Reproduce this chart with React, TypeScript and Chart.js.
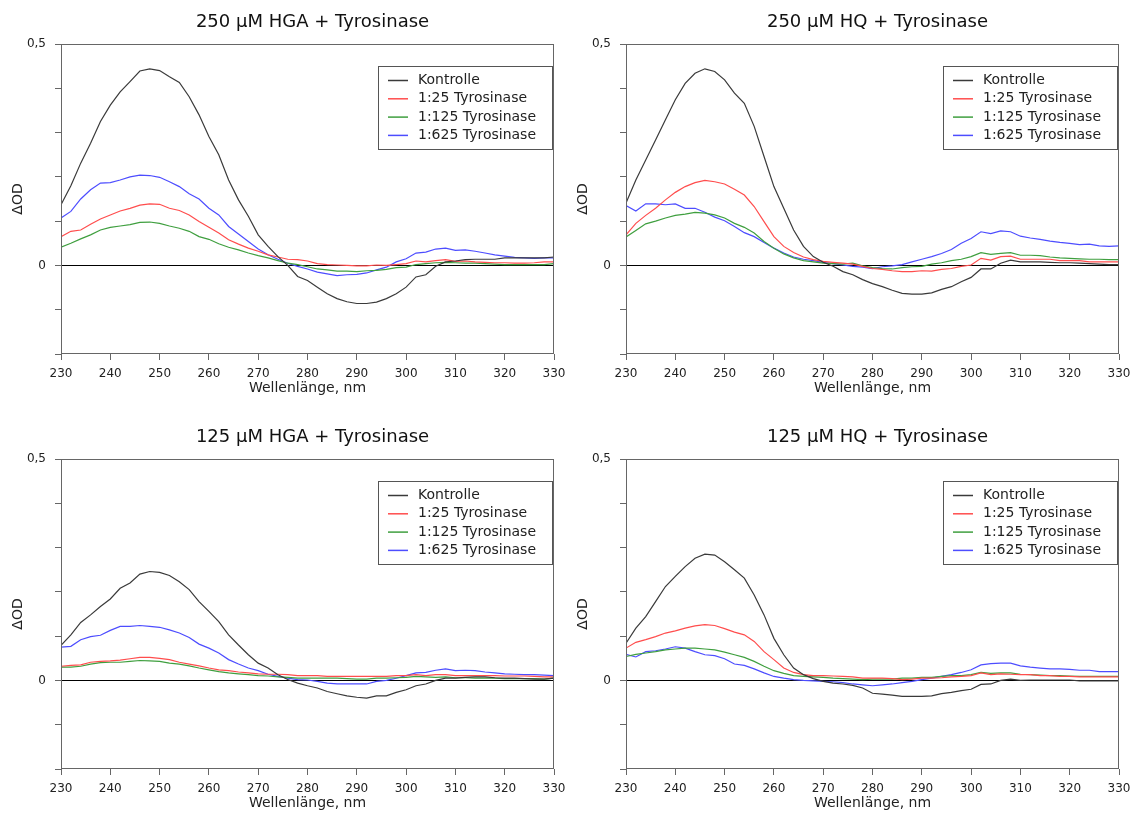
import React, { useEffect, useRef } from 'react';
import { Chart, registerables } from 'chart.js';

Chart.register(...registerables);
Chart.defaults.font.family = '"DejaVu Sans", Verdana, sans-serif';

// Wavelengths, nm (2 nm steps)
const WAVELENGTHS = [
  230, 232, 234, 236, 238, 240, 242, 244, 246, 248, 250, 252, 254, 256, 258, 260, 262, 264, 266, 268, 270, 272, 274, 276, 278, 280,
  282, 284, 286, 288, 290, 292, 294, 296, 298, 300, 302, 304, 306, 308, 310, 312, 314, 316, 318, 320, 322, 324, 326, 328, 330,
];

const SERIES_LABELS = ['Kontrolle', '1:25 Tyrosinase', '1:125 Tyrosinase', '1:625 Tyrosinase'];
const SERIES_COLORS = ['#3a3a3a', '#ff4d4d', '#3f9f3f', '#4d4dff'];

const PANEL_TITLES = [
  '250 µM HGA + Tyrosinase',
  '250 µM HQ + Tyrosinase',
  '125 µM HGA + Tyrosinase',
  '125 µM HQ + Tyrosinase',
];

const Y_TICK_LABELS: Record<string, string> = { '0': '0', '0.5': '0,5' };

// 250 µM HGA
const HGA250_KONTROLLE = [
  0.137, 0.18, 0.231, 0.276, 0.325, 0.362, 0.392, 0.415, 0.439, 0.444, 0.44, 0.426, 0.413, 0.381, 0.34, 0.291, 0.25, 0.193, 0.148, 0.111, 0.069, 0.043, 0.02, 0, -0.025, -0.034,
  -0.049, -0.064, -0.075, -0.082, -0.086, -0.086, -0.083, -0.075, -0.064, -0.049, -0.026, -0.021, -0.002, 0.008, 0.01, 0.013, 0.014, 0.014, 0.014, 0.017, 0.017, 0.017, 0.017, 0.017, 0.019,
];
const HGA250_T25 = [
  0.065, 0.077, 0.08, 0.093, 0.105, 0.114, 0.123, 0.129, 0.136, 0.139, 0.138, 0.129, 0.124, 0.114, 0.099, 0.086, 0.073, 0.058, 0.048, 0.039, 0.032, 0.024, 0.019, 0.014, 0.013, 0.01,
  0.004, 0.002, 0.001, 0, -0.001, -0.001, 0.001, 0, 0.002, 0.004, 0.01, 0.008, 0.011, 0.013, 0.009, 0.01, 0.008, 0.007, 0.006, 0.006, 0.005, 0.005, 0.006, 0.008, 0.008,
];
const HGA250_T125 = [
  0.041, 0.05, 0.06, 0.069, 0.08, 0.086, 0.089, 0.092, 0.097, 0.098, 0.095, 0.089, 0.084, 0.077, 0.065, 0.059, 0.049, 0.041, 0.035, 0.028, 0.022, 0.017, 0.011, 0.005, 0.002, -0.003,
  -0.008, -0.01, -0.013, -0.013, -0.014, -0.012, -0.011, -0.009, -0.005, -0.004, 0.002, 0.004, 0.006, 0.007, 0.006, 0.005, 0.005, 0.004, 0.003, 0.002, 0.002, 0.002, 0.002, 0.002, 0.004,
];
const HGA250_T625 = [
  0.107, 0.122, 0.15, 0.171, 0.186, 0.187, 0.193, 0.2, 0.204, 0.203, 0.199, 0.189, 0.178, 0.162, 0.15, 0.129, 0.114, 0.088, 0.071, 0.054, 0.037, 0.024, 0.014, 0.005, -0.002, -0.008,
  -0.015, -0.019, -0.023, -0.021, -0.02, -0.017, -0.01, -0.004, 0.008, 0.015, 0.028, 0.03, 0.037, 0.039, 0.034, 0.035, 0.032, 0.028, 0.024, 0.021, 0.018, 0.017, 0.016, 0.017, 0.017,
];

// 250 µM HQ
const HQ250_KONTROLLE = [
  0.141, 0.193, 0.238, 0.283, 0.329, 0.374, 0.411, 0.434, 0.444, 0.438, 0.419, 0.389, 0.366, 0.314, 0.246, 0.178, 0.129, 0.08, 0.043, 0.02, 0.007, -0.002, -0.014, -0.021, -0.032, -0.041,
  -0.048, -0.056, -0.063, -0.065, -0.065, -0.062, -0.054, -0.048, -0.037, -0.027, -0.008, -0.008, 0.005, 0.012, 0.008, 0.008, 0.008, 0.007, 0.006, 0.006, 0.005, 0.004, 0.003, 0.002, 0.002,
];
const HQ250_T25 = [
  0.069, 0.095, 0.113, 0.129, 0.148, 0.165, 0.178, 0.187, 0.192, 0.189, 0.184, 0.172, 0.159, 0.133, 0.099, 0.065, 0.043, 0.029, 0.019, 0.013, 0.009, 0.007, 0.005, 0.003, -0.002, -0.007,
  -0.009, -0.012, -0.014, -0.014, -0.012, -0.013, -0.009, -0.007, -0.002, 0.001, 0.016, 0.012, 0.02, 0.021, 0.014, 0.014, 0.014, 0.014, 0.011, 0.011, 0.011, 0.008, 0.008, 0.008, 0.008,
];
const HQ250_T125 = [
  0.064, 0.079, 0.094, 0.1, 0.107, 0.113, 0.116, 0.12, 0.118, 0.114, 0.107, 0.095, 0.086, 0.073, 0.054, 0.039, 0.026, 0.017, 0.011, 0.008, 0.005, 0.004, 0.003, 0.005, -0.001, -0.005,
  -0.007, -0.008, -0.005, -0.003, -0.002, 0.003, 0.006, 0.011, 0.014, 0.02, 0.029, 0.025, 0.027, 0.029, 0.023, 0.023, 0.022, 0.019, 0.017, 0.016, 0.015, 0.014, 0.014, 0.013, 0.013,
];
const HQ250_T625 = [
  0.135, 0.123, 0.139, 0.139, 0.137, 0.139, 0.129, 0.129, 0.12, 0.109, 0.101, 0.088, 0.074, 0.065, 0.052, 0.039, 0.028, 0.019, 0.014, 0.011, 0.007, 0.004, 0.001, -0.002, -0.004, -0.007,
  -0.003, -0.001, 0.002, 0.008, 0.014, 0.02, 0.027, 0.036, 0.05, 0.061, 0.076, 0.072, 0.078, 0.076, 0.066, 0.062, 0.059, 0.055, 0.052, 0.05, 0.047, 0.048, 0.044, 0.043, 0.044,
];

// 125 µM HGA
const HGA125_KONTROLLE = [
  0.079, 0.103, 0.131, 0.148, 0.167, 0.184, 0.208, 0.22, 0.24, 0.246, 0.244, 0.237, 0.223, 0.205, 0.178, 0.156, 0.133, 0.103, 0.08, 0.058, 0.039, 0.028, 0.013, 0.002, -0.006, -0.012,
  -0.017, -0.025, -0.03, -0.035, -0.038, -0.04, -0.035, -0.035, -0.027, -0.021, -0.012, -0.008, 0, 0.005, 0.005, 0.007, 0.008, 0.008, 0.006, 0.005, 0.005, 0.004, 0.003, 0.003, 0.005,
];
const HGA125_T25 = [
  0.032, 0.034, 0.035, 0.041, 0.043, 0.044, 0.046, 0.049, 0.052, 0.052, 0.05, 0.047, 0.041, 0.037, 0.033, 0.028, 0.024, 0.022, 0.019, 0.017, 0.015, 0.014, 0.014, 0.013, 0.011, 0.011,
  0.011, 0.009, 0.009, 0.009, 0.009, 0.009, 0.009, 0.009, 0.011, 0.011, 0.013, 0.011, 0.013, 0.013, 0.011, 0.011, 0.011, 0.011, 0.011, 0.01, 0.01, 0.01, 0.009, 0.008, 0.008,
];
const HGA125_T125 = [
  0.03, 0.03, 0.032, 0.037, 0.04, 0.041, 0.041, 0.043, 0.045, 0.044, 0.043, 0.039, 0.037, 0.033, 0.028, 0.024, 0.02, 0.017, 0.015, 0.013, 0.011, 0.01, 0.008, 0.007, 0.005, 0.005,
  0.005, 0.005, 0.005, 0.004, 0.003, 0.003, 0.005, 0.005, 0.006, 0.007, 0.009, 0.008, 0.007, 0.008, 0.006, 0.006, 0.005, 0.005, 0.005, 0.004, 0.004, 0.004, 0.004, 0.003, 0.005,
];
const HGA125_T625 = [
  0.075, 0.077, 0.092, 0.099, 0.102, 0.113, 0.122, 0.122, 0.124, 0.122, 0.12, 0.114, 0.107, 0.097, 0.082, 0.073, 0.062, 0.047, 0.037, 0.028, 0.022, 0.014, 0.009, 0.005, 0.002, 0.001,
  -0.002, -0.006, -0.008, -0.008, -0.008, -0.008, -0.002, 0, 0.005, 0.011, 0.017, 0.018, 0.023, 0.026, 0.022, 0.023, 0.022, 0.019, 0.017, 0.015, 0.014, 0.013, 0.013, 0.012, 0.011,
];

// 125 µM HQ
const HQ125_KONTROLLE = [
  0.084, 0.118, 0.144, 0.178, 0.212, 0.235, 0.257, 0.276, 0.285, 0.283, 0.268, 0.25, 0.231, 0.193, 0.148, 0.095, 0.058, 0.028, 0.013, 0.004, -0.002, -0.006, -0.008, -0.011, -0.017, -0.029,
  -0.031, -0.033, -0.036, -0.036, -0.036, -0.035, -0.03, -0.027, -0.023, -0.02, -0.009, -0.008, 0, 0.003, 0, 0.001, 0.001, 0.001, 0.001, 0.001, -0.001, -0.001, -0.001, -0.001, -0.001,
];
const HQ125_T25 = [
  0.073, 0.086, 0.092, 0.099, 0.107, 0.112, 0.118, 0.123, 0.126, 0.124, 0.117, 0.109, 0.103, 0.088, 0.065, 0.047, 0.028, 0.018, 0.013, 0.011, 0.011, 0.01, 0.009, 0.008, 0.005, 0.005,
  0.005, 0.004, 0.002, 0.003, 0.005, 0.005, 0.006, 0.008, 0.009, 0.011, 0.017, 0.013, 0.015, 0.014, 0.013, 0.013, 0.011, 0.011, 0.009, 0.009, 0.008, 0.008, 0.008, 0.008, 0.008,
];
const HQ125_T125 = [
  0.054, 0.059, 0.062, 0.065, 0.069, 0.071, 0.073, 0.073, 0.071, 0.069, 0.064, 0.058, 0.052, 0.043, 0.032, 0.022, 0.016, 0.011, 0.009, 0.008, 0.007, 0.005, 0.004, 0.003, 0.002, 0.003,
  0.003, 0.003, 0.005, 0.005, 0.007, 0.007, 0.009, 0.011, 0.011, 0.013, 0.018, 0.016, 0.017, 0.017, 0.014, 0.013, 0.012, 0.011, 0.011, 0.01, 0.009, 0.009, 0.009, 0.009, 0.009,
];
const HQ125_T625 = [
  0.059, 0.053, 0.065, 0.067, 0.071, 0.076, 0.073, 0.065, 0.058, 0.056, 0.049, 0.037, 0.034, 0.026, 0.017, 0.009, 0.005, 0.002, 0, -0.001, -0.002, -0.003, -0.005, -0.008, -0.01, -0.012,
  -0.01, -0.008, -0.005, -0.002, 0.002, 0.005, 0.009, 0.013, 0.018, 0.024, 0.035, 0.038, 0.039, 0.039, 0.033, 0.03, 0.028, 0.026, 0.026, 0.025, 0.023, 0.023, 0.02, 0.02, 0.02,
];

const PANEL_SERIES = [
  [HGA250_KONTROLLE, HGA250_T25, HGA250_T125, HGA250_T625],
  [HQ250_KONTROLLE, HQ250_T25, HQ250_T125, HQ250_T625],
  [HGA125_KONTROLLE, HGA125_T25, HGA125_T125, HGA125_T625],
  [HQ125_KONTROLLE, HQ125_T25, HQ125_T125, HQ125_T625],
];

const CANVAS_W = 566;
const CANVAS_H = 398;
const AXIS_LEFT = 61;
const PLOT_BOTTOM = 354;

const framePlugin = {
  id: 'frame',
  afterDatasetsDraw(chart: any) {
    const { ctx, chartArea } = chart;
    ctx.save();
    ctx.strokeStyle = '#666';
    ctx.lineWidth = 1;
    const l = Math.round(chartArea.left) + 0.5;
    const t = Math.round(chartArea.top) + 0.5;
    const r = Math.round(chartArea.right) - 0.5;
    const b = Math.round(chartArea.bottom) - 0.5;
    ctx.strokeRect(l, t, r - l, b - t);
    ctx.restore();
  },
};

const boxLegendPlugin = {
  id: 'boxLegend',
  afterDraw(chart: any) {
    const { ctx, chartArea } = chart;
    const w = 174;
    const h = 83;
    const x = Math.round(chartArea.right - 2 - w);
    const y = Math.round(chartArea.top + 22);
    ctx.save();
    ctx.fillStyle = '#fff';
    ctx.fillRect(x, y, w, h);
    ctx.strokeStyle = '#555';
    ctx.lineWidth = 1;
    ctx.strokeRect(x + 0.5, y + 0.5, w, h);
    ctx.font = '14px "DejaVu Sans", Verdana, sans-serif';
    ctx.textBaseline = 'middle';
    ctx.textAlign = 'left';
    chart.data.datasets.forEach((ds: any, i: number) => {
      const yy = y + 14.5 + i * 18.3;
      ctx.strokeStyle = ds.borderColor;
      ctx.lineWidth = 1.5;
      ctx.beginPath();
      ctx.moveTo(x + 10, yy);
      ctx.lineTo(x + 30, yy);
      ctx.stroke();
      ctx.fillStyle = '#222';
      ctx.fillText(ds.label, x + 40, yy);
    });
    ctx.restore();
  },
};

const panelTitlePlugin = {
  id: 'panelTitle',
  afterDraw(chart: any, _args: any, opts: any) {
    const { ctx, chartArea } = chart;
    ctx.save();
    ctx.font = '18px "DejaVu Sans", Verdana, sans-serif';
    ctx.fillStyle = '#111';
    ctx.textAlign = 'center';
    ctx.textBaseline = 'middle';
    ctx.fillText(opts.text, (chartArea.left + chartArea.right) / 2 + 5, 22.5);
    ctx.restore();
  },
};

function Panel({ index, left, top }: { index: number; left: number; top: number }) {
  const ref = useRef<HTMLCanvasElement | null>(null);
  useEffect(() => {
    if (!ref.current) return;
    const series = PANEL_SERIES[index];
    const chart = new Chart(ref.current, {
      type: 'line',
      data: {
        datasets: SERIES_LABELS.map((label, si) => ({
          label,
          data: WAVELENGTHS.map((wl, i) => ({ x: wl, y: series[si][i] })),
          borderColor: SERIES_COLORS[si],
          borderWidth: 1.2,
          pointRadius: 0,
          tension: 0,
          fill: false,
        })),
      },
      options: {
        responsive: false,
        animation: false,
        events: [],
        layout: { padding: { top: 44, right: 12, bottom: 0, left: 0 } },
        plugins: {
          legend: { display: false },
          tooltip: { enabled: false },
          title: { display: false },
          panelTitle: { text: PANEL_TITLES[index] },
        } as any,
        scales: {
          x: {
            type: 'linear',
            min: 230,
            max: 330,
            ticks: { stepSize: 10, color: '#222', font: { size: 12 }, padding: 7, maxRotation: 0 },
            grid: { drawOnChartArea: false, tickLength: 6, tickColor: '#666' },
            border: { display: false },
            title: { display: true, text: 'Wellenlänge, nm', color: '#222', font: { size: 14 }, padding: { top: 0, bottom: 1 } },
            afterFit: (scale: any) => {
              scale.height = CANVAS_H - PLOT_BOTTOM;
              scale.paddingLeft = 0;
              scale.paddingRight = 0;
            },
          },
          y: {
            type: 'linear',
            min: -0.2,
            max: 0.5,
            ticks: {
              stepSize: 0.1,
              color: '#222',
              font: { size: 12 },
              padding: 9,
              callback: (v: any) => {
                const key = String(Math.round(Number(v) * 10) / 10);
                return Y_TICK_LABELS[key] ?? '';
              },
            },
            grid: {
              drawOnChartArea: true,
              tickLength: 6,
              tickColor: '#666',
              color: (ctx: any) =>
                ctx.tick && Math.abs(ctx.tick.value) < 1e-9 ? '#000' : 'rgba(0,0,0,0)',
            },
            border: { display: false },
            title: { display: true, text: 'ΔOD', color: '#222', font: { size: 14 }, padding: { top: 10, bottom: 0 } },
            afterFit: (scale: any) => {
              scale.width = AXIS_LEFT;
            },
          },
        },
      },
      plugins: [framePlugin, boxLegendPlugin, panelTitlePlugin],
    });
    return () => chart.destroy();
  }, [index]);
  return (
    <canvas
      ref={ref}
      width={CANVAS_W}
      height={CANVAS_H}
      style={{ position: 'absolute', left, top, width: CANVAS_W, height: CANVAS_H }}
    />
  );
}

export default function App() {
  return (
    <div style={{ position: 'absolute', left: 0, top: 0, width: 1131, height: 813, background: '#fff' }}>
      <Panel index={0} left={0} top={0} />
      <Panel index={1} left={565} top={0} />
      <Panel index={2} left={0} top={415} />
      <Panel index={3} left={565} top={415} />
    </div>
  );
}
